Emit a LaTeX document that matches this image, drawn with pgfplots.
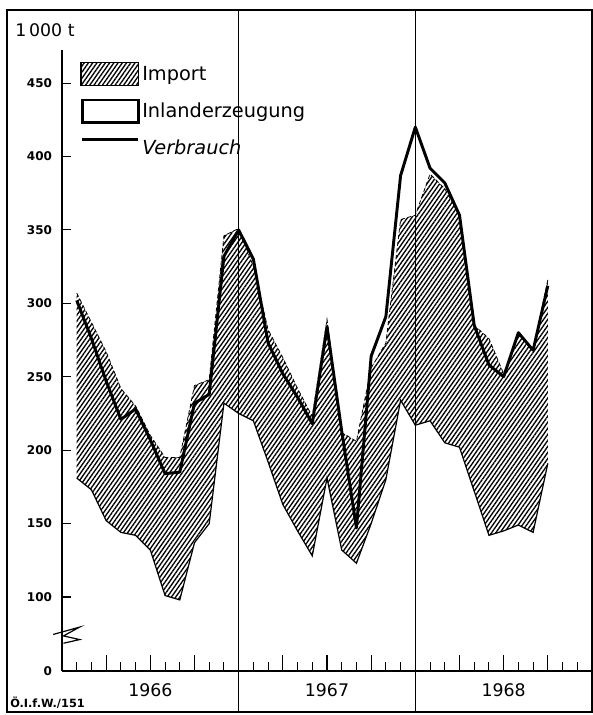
\documentclass[border=0pt]{standalone}
\usepackage{fontspec}
\setmainfont{DejaVu Sans}
\usepackage{pgfplots}
\pgfplotsset{compat=1.18}
\usepackage{pgfplotstable}
\usepgfplotslibrary{fillbetween}
\usetikzlibrary{patterns.meta}

% month index (end of month, 1 = Jan 1966), domestic production, total supply, consumption
\pgfplotstableread{
m  lower upper verbrauch
1  181 307 302
2  173 287 276
3  152 267 247
4  144 242 221
5  142 230 228
6  132 210 207
7  101 195 184
8  98  195 185
9  137 244 232
10 150 248 238
11 232 346 332
12 225 351 350
13 220 325 330
14 192 282 273
15 163 263 252
16 145 242 236
17 128 223 218
18 181 289 284
19 132 212 213
20 123 206 147
21 150 256 264
22 180 273 291
23 234 357 387
24 217 360 420
25 220 388 392
26 205 378 382
27 202 360 360
28 172 285 285
29 142 276 258
30 145 252 250
31 149 280 280
32 144 268 268
33 191 316 312
}\datatable

\begin{document}
\begin{tikzpicture}
\begin{axis}[
  at={(0,0)}, anchor=south west,
  scale only axis, width=397.5pt, height=465.75pt,
  xmin=0, xmax=36, ymin=49.6, ymax=472.5,
  axis x line=bottom, axis y line=left,
  axis line style={-, line width=1.1pt},
  every outer x axis line/.append style={-},
  every outer y axis line/.append style={-},
  tick align=inside,
  xtick={1,2,4,5,7,8,10,11,13,14,16,17,19,20,22,23,25,26,28,29,31,32,34,35},
  xticklabels={},
  extra x ticks={3,6,9,15,18,21,27,30,33},
  extra x tick labels={},
  extra tick style={major tick length=12pt},
  major tick length=6.5pt,
  tick style={black, line width=0.8pt},
  ytick={49.6,100,150,200,250,300,350,400,450},
  yticklabels={0,100,150,200,250,300,350,400,450},
  yticklabel style={font=\bfseries\fontsize{9}{10}\selectfont, xshift=-4pt},
  /pgf/number format/assume math mode=true,
  clip=false,
  legend cell align=left,
  legend style={at={(rel axis cs:0.034,0.981)}, anchor=north west,
    draw=none, fill=none, inner sep=0pt, row sep=9.5pt,
    column sep=0pt,
    font=\fontsize{14.5}{16}\selectfont},
]
\addlegendimage{legend image code/.code={\draw[line width=1pt, pattern={Lines[angle=55,distance=2.6pt,line width=1pt]}] (0pt,-8.5pt) rectangle (43pt,8.5pt);}}
\addlegendentry{Import}
\addlegendimage{legend image code/.code={\draw[line width=2pt, fill=white] (1pt,-8.5pt) rectangle (43pt,8.5pt);}}
\addlegendentry{Inlanderzeugung}
\addlegendimage{legend image code/.code={\draw[line width=2pt] (1pt,6pt) -- (43pt,6pt);}}
\addlegendentry{\textit{Verbrauch}}

\addplot[name path=lower, black, line width=0.9pt, forget plot] table[x=m, y=lower] {\datatable};
\addplot[name path=upper, black, line width=0.6pt, densely dashed, forget plot] table[x=m, y=upper] {\datatable};
\addplot[pattern={Lines[angle=55,distance=2.6pt,line width=1pt]}, draw=none, forget plot] fill between[of=upper and lower];
\addplot[black, line width=2.2pt, line join=round, forget plot] table[x=m, y=verbrauch] {\datatable};

% axis break
\draw[line width=0.9pt] (axis cs:-0.6,74.5) -- (axis cs:1.2,79.5) -- (axis cs:0.1,73.5) -- (axis cs:1.2,71) -- (axis cs:0.1,68.5);

\node[font=\fontsize{13}{14}\selectfont] at ([yshift=-14.25pt]axis cs:6,49.6) {1966};
\node[font=\fontsize{13}{14}\selectfont] at ([yshift=-14.25pt]axis cs:18,49.6) {1967};
\node[font=\fontsize{13}{14}\selectfont] at ([yshift=-14.25pt]axis cs:30,49.6) {1968};
\end{axis}
% frame, year separators, texts
\draw[line width=1.6pt] (-41.25pt,-30.75pt) rectangle (397.5pt,495.75pt);
\draw[line width=0.8pt] (132.5pt,-30.75pt) -- (132.5pt,495.75pt);
\draw[line width=0.8pt] (265pt,-30.75pt) -- (265pt,495.75pt);
\node[anchor=west, inner sep=0pt, font=\fontsize{13}{14}\selectfont] at (-35.25pt,480.75pt) {1\,000 t};
\node[anchor=west, inner sep=0pt, font=\bfseries\fontsize{8.5}{10}\selectfont] at (-39pt,-24pt) {Ö.I.f.W./151};
\pgfresetboundingbox
\path[use as bounding box] (-46.5pt,-33pt) rectangle (398.25pt,503.25pt);
\end{tikzpicture}
\end{document}
